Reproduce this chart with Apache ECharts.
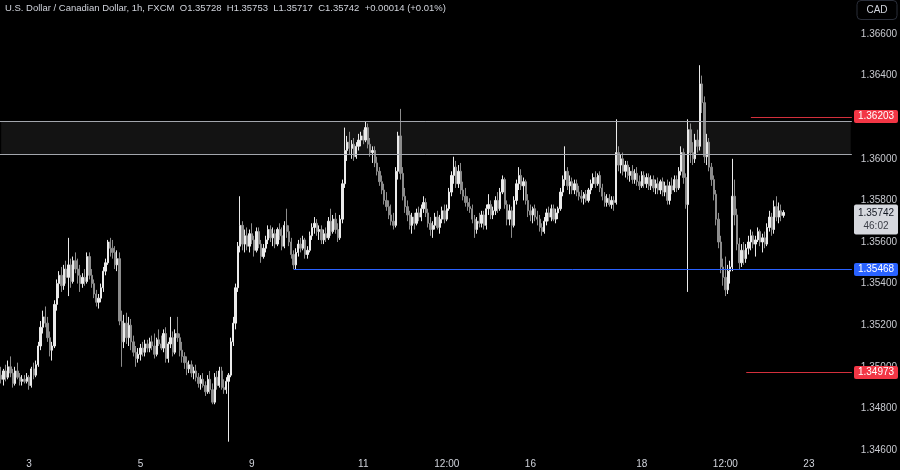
<!DOCTYPE html>
<html><head><meta charset="utf-8">
<script src="https://cdn.jsdelivr.net/npm/echarts@6/dist/echarts.min.js"></script>
<style>html,body{margin:0;padding:0;background:#000}#c{width:900px;height:470px}</style>
</head><body><div id="c"></div>
<script>
// ---------- DATA ----------
const tradingDays = ['09-02','09-03','09-04','09-05','09-06','09-09','09-10','09-11','09-12','09-13','09-16','09-17','09-18','09-19','09-20','09-23'];
const firstHour = 12;          // first candle: 09-02 12:00
const categoryCount = 367;     // hourly slots shown on the axis (incl. empty right margin)

const xTickLabels = {
  '09-03 00:00':'3','09-05 00:00':'5','09-09 00:00':'9','09-11 00:00':'11',
  '09-12 12:00':'12:00','09-16 00:00':'16','09-18 00:00':'18','09-19 12:00':'12:00','09-23 00:00':'23'
};
const yTicks = [1.346,1.348,1.350,1.352,1.354,1.356,1.358,1.360,1.362,1.364,1.366];

const opens = [
1.3496,1.3494,1.3498,1.3495,1.3500,1.3497,1.3492,1.3498,1.3495,1.3493,1.3494,1.3493,
1.3495,1.3491,1.3499,1.3496,1.3501,1.3510,1.3519,1.3524,1.3521,1.3514,1.3508,1.3510,
1.3530,1.3540,1.3544,1.3539,1.3547,1.3543,1.3549,1.3541,1.3551,1.3547,1.3544,1.3540,
1.3543,1.3541,1.3553,1.3544,1.3540,1.3535,1.3531,1.3533,1.3538,1.3546,1.3550,1.3560,
1.3557,1.3555,1.3549,1.3552,1.3522,1.3512,1.3521,1.3514,1.3520,1.3512,1.3507,1.3504,
1.3506,1.3509,1.3507,1.3511,1.3509,1.3512,1.3510,1.3506,1.3513,1.3511,1.3509,1.3516,
1.3504,1.3511,1.3514,1.3507,1.3516,1.3514,1.3508,1.3505,1.3502,1.3499,1.3501,1.3497,
1.3498,1.3495,1.3492,1.3494,1.3491,1.3488,1.3494,1.3489,1.3483,1.3495,1.3491,1.3498,
1.3490,1.3489,1.3493,1.3496,1.3512,1.3521,1.3538,1.3558,1.3568,1.3559,1.3563,1.3558,
1.3564,1.3561,1.3556,1.3565,1.3559,1.3553,1.3557,1.3561,1.3566,1.3562,1.3564,1.3559,
1.3566,1.3563,1.3558,1.3568,1.3565,1.3560,1.3554,1.3549,1.3555,1.3559,1.3557,1.3561,
1.3554,1.3556,1.3563,1.3567,1.3569,1.3565,1.3566,1.3561,1.3564,1.3562,1.3570,1.3565,
1.3571,1.3566,1.3562,1.3571,1.3588,1.3604,1.3608,1.3605,1.3607,1.3601,1.3606,1.3609,
1.3611,1.3609,1.3615,1.3607,1.3603,1.3604,1.3598,1.3594,1.3589,1.3585,1.3580,1.3577,
1.3573,1.3570,1.3568,1.3594,1.3611,1.3593,1.3582,1.3577,1.3573,1.3568,1.3572,1.3569,
1.3574,1.3572,1.3576,1.3579,1.3574,1.3569,1.3566,1.3568,1.3572,1.3567,1.3571,1.3575,
1.3571,1.3576,1.3584,1.3592,1.3596,1.3588,1.3594,1.3585,1.3582,1.3579,1.3577,1.3576,
1.3571,1.3566,1.3570,1.3569,1.3573,1.3568,1.3576,1.3578,1.3573,1.3575,1.3580,1.3576,
1.3584,1.3590,1.3578,1.3571,1.3575,1.3568,1.3580,1.3588,1.3592,1.3587,1.3589,1.3580,
1.3575,1.3573,1.3576,1.3572,1.3571,1.3567,1.3565,1.3570,1.3574,1.3572,1.3576,1.3571,
1.3574,1.3576,1.3584,1.3590,1.3594,1.3587,1.3589,1.3585,1.3588,1.3584,1.3582,1.3581,
1.3583,1.3580,1.3585,1.3588,1.3591,1.3588,1.3592,1.3586,1.3582,1.3579,1.3581,1.3578,
1.3580,1.3579,1.3603,1.3597,1.3600,1.3594,1.3597,1.3592,1.3594,1.3590,1.3593,1.3589,
1.3587,1.3592,1.3588,1.3591,1.3587,1.3590,1.3586,1.3588,1.3585,1.3589,1.3584,1.3587,
1.3580,1.3587,1.3585,1.3590,1.3586,1.3594,1.3603,1.3591,1.3578,1.3614,1.3603,1.3600,
1.3609,1.3606,1.3636,1.3627,1.3601,1.3608,1.3596,1.3590,1.3583,1.3571,1.3560,1.3548,
1.3543,1.3537,1.3546,1.3548,1.3582,1.3573,1.3559,1.3550,1.3556,1.3552,1.3557,1.3560,
1.3563,1.3559,1.3561,1.3565,1.3560,1.3562,1.3559,1.3567,1.3572,1.3566,1.3577,1.3572,
1.3575,1.35728];

const highs = [
1.3500,1.3499,1.3501,1.3503,1.3505,1.3499,1.3500,1.3502,1.3497,1.3496,1.3496,1.3497,
1.3496,1.3500,1.3502,1.3503,1.3512,1.3522,1.3527,1.3529,1.3524,1.3517,1.3512,1.3532,
1.3542,1.3546,1.3548,1.3549,1.3551,1.3562,1.3552,1.3553,1.3555,1.3552,1.3549,1.3545,
1.3547,1.3555,1.3555,1.3547,1.3542,1.3537,1.3535,1.3540,1.3548,1.3552,1.3561,1.3562,
1.3561,1.3558,1.3556,1.3555,1.3527,1.3525,1.3526,1.3524,1.3523,1.3515,1.3510,1.3509,
1.3511,1.3512,1.3513,1.3513,1.3514,1.3515,1.3516,1.3514,1.3518,1.3515,1.3518,1.3519,
1.3512,1.3524,1.3517,1.3518,1.3524,1.3516,1.3512,1.3507,1.3505,1.3503,1.3503,1.3500,
1.3501,1.3497,1.3496,1.3497,1.3493,1.3496,1.3498,1.3492,1.3497,1.3498,1.3500,1.3500,
1.3494,1.3495,1.3497,1.3514,1.3524,1.3540,1.3560,1.3582,1.3570,1.3566,1.3567,1.3566,
1.3569,1.3563,1.3567,1.3567,1.3561,1.3559,1.3563,1.3568,1.3568,1.3567,1.3566,1.3567,
1.3569,1.3567,1.3570,1.3576,1.3568,1.3562,1.3556,1.3557,1.3561,1.3562,1.3563,1.3562,
1.3558,1.3565,1.3569,1.3572,1.3571,1.3568,1.3568,1.3566,1.3567,1.3572,1.3576,1.3573,
1.3574,1.3569,1.3573,1.3590,1.3615,1.3611,1.3613,1.3609,1.3610,1.3608,1.3612,1.3613,
1.3614,1.3618,1.3617,1.3610,1.3606,1.3606,1.3601,1.3596,1.3592,1.3588,1.3584,1.3580,
1.3578,1.3574,1.3596,1.3613,1.3624,1.3596,1.3586,1.3580,1.3575,1.3574,1.3574,1.3576,
1.3577,1.3578,1.3582,1.3581,1.3576,1.3572,1.3570,1.3574,1.3575,1.3573,1.3577,1.3578,
1.3578,1.3586,1.3594,1.3601,1.3599,1.3597,1.3598,1.3589,1.3586,1.3582,1.3581,1.3578,
1.3573,1.3572,1.3574,1.3575,1.3575,1.3578,1.3583,1.3580,1.3577,1.3582,1.3584,1.3586,
1.3592,1.3591,1.3580,1.3578,1.3577,1.3582,1.3590,1.3596,1.3595,1.3591,1.3590,1.3583,
1.3578,1.3577,1.3578,1.3575,1.3573,1.3569,1.3572,1.3576,1.3577,1.3578,1.3578,1.3576,
1.3577,1.3586,1.3592,1.3606,1.3596,1.3592,1.3591,1.3590,1.3590,1.3587,1.3585,1.3584,
1.3585,1.3586,1.3590,1.3593,1.3594,1.3593,1.3594,1.3588,1.3584,1.3583,1.3583,1.3582,
1.3582,1.3619,1.3606,1.3602,1.3603,1.3599,1.3599,1.3596,1.3597,1.3595,1.3596,1.3592,
1.3594,1.3594,1.3593,1.3593,1.3592,1.3592,1.3590,1.3591,1.3590,1.3591,1.3589,1.3590,
1.3589,1.3591,1.3592,1.3592,1.3596,1.3606,1.3605,1.3593,1.3619,1.3617,1.3608,1.3612,
1.3614,1.3645,1.3640,1.3630,1.3612,1.3610,1.3598,1.3592,1.3585,1.3574,1.3563,1.3552,
1.3553,1.3549,1.3551,1.3600,1.3590,1.3576,1.3562,1.3559,1.3560,1.3559,1.3563,1.3566,
1.3565,1.3563,1.3567,1.3566,1.3564,1.3565,1.3569,1.3575,1.3574,1.3580,1.3582,1.3579,
1.3578,1.35753];

const lows = [
1.3492,1.3491,1.3493,1.3494,1.3495,1.3490,1.3491,1.3494,1.3491,1.3491,1.3492,1.3492,
1.3489,1.3490,1.3494,1.3495,1.3500,1.3508,1.3516,1.3519,1.3512,1.3505,1.3503,1.3509,
1.3527,1.3533,1.3536,1.3537,1.3540,1.3534,1.3538,1.3540,1.3545,1.3540,1.3536,1.3538,
1.3539,1.3540,1.3542,1.3538,1.3533,1.3529,1.3528,1.3531,1.3536,1.3544,1.3549,1.3553,
1.3552,1.3547,1.3546,1.3520,1.3500,1.3509,1.3511,1.3510,1.3508,1.3505,1.3500,1.3502,
1.3503,1.3505,1.3505,1.3507,1.3507,1.3508,1.3504,1.3505,1.3510,1.3508,1.3507,1.3502,
1.3502,1.3509,1.3505,1.3506,1.3512,1.3505,1.3502,1.3499,1.3496,1.3497,1.3495,1.3494,
1.3493,1.3490,1.3489,1.3490,1.3486,1.3487,1.3487,1.3482,1.3482,1.3489,1.3490,1.3489,
1.3487,1.3487,1.3464,1.3495,1.3510,1.3518,1.3536,1.3555,1.3556,1.3555,1.3556,1.3555,
1.3559,1.3553,1.3555,1.3557,1.3550,1.3552,1.3555,1.3559,1.3560,1.3558,1.3557,1.3558,
1.3561,1.3556,1.3557,1.3562,1.3558,1.3552,1.3547,1.3547,1.3553,1.3555,1.3556,1.3552,
1.3552,1.3555,1.3561,1.3564,1.3563,1.3561,1.3559,1.3559,1.3560,1.3561,1.3563,1.3564,
1.3564,1.3560,1.3561,1.3569,1.3586,1.3599,1.3602,1.3600,1.3599,1.3600,1.3604,1.3606,
1.3607,1.3608,1.3605,1.3601,1.3598,1.3596,1.3592,1.3587,1.3583,1.3578,1.3575,1.3571,
1.3568,1.3566,1.3567,1.3590,1.3590,1.3580,1.3574,1.3570,1.3566,1.3564,1.3566,1.3568,
1.3570,1.3570,1.3574,1.3572,1.3567,1.3563,1.3562,1.3566,1.3566,1.3564,1.3569,1.3569,
1.3570,1.3575,1.3582,1.3588,1.3586,1.3586,1.3583,1.3580,1.3577,1.3575,1.3574,1.3569,
1.3562,1.3564,1.3567,1.3567,1.3566,1.3566,1.3573,1.3571,1.3571,1.3573,1.3574,1.3575,
1.3583,1.3576,1.3568,1.3568,1.3562,1.3567,1.3578,1.3585,1.3585,1.3580,1.3578,1.3572,
1.3570,1.3569,1.3570,1.3568,1.3565,1.3563,1.3564,1.3568,1.3570,1.3570,1.3570,1.3569,
1.3571,1.3575,1.3582,1.3587,1.3585,1.3583,1.3583,1.3583,1.3582,1.3580,1.3579,1.3578,
1.3579,1.3579,1.3583,1.3586,1.3586,1.3587,1.3584,1.3580,1.3577,1.3577,1.3577,1.3576,
1.3575,1.3578,1.3594,1.3593,1.3592,1.3591,1.3590,1.3589,1.3588,1.3588,1.3587,1.3585,
1.3586,1.3586,1.3586,1.3585,1.3585,1.3584,1.3583,1.3583,1.3583,1.3582,1.3582,1.3578,
1.3578,1.3583,1.3584,1.3584,1.3585,1.3592,1.3588,1.3576,1.3536,1.3598,1.3597,1.3598,
1.3603,1.3604,1.3622,1.3598,1.3597,1.3594,1.3587,1.3580,1.3568,1.3557,1.3545,1.3539,
1.3534,1.3535,1.3540,1.3546,1.3568,1.3556,1.3547,1.3548,1.3549,1.3550,1.3554,1.3556,
1.3557,1.3553,1.3560,1.3558,1.3555,1.3557,1.3558,1.3565,1.3563,1.3564,1.3570,1.3569,
1.3570,1.35717];

const closes = [
1.3494,1.3498,1.3495,1.3500,1.3497,1.3492,1.3498,1.3495,1.3493,1.3494,1.3493,1.3495,
1.3491,1.3499,1.3496,1.3501,1.3510,1.3519,1.3524,1.3521,1.3514,1.3508,1.3510,1.3530,
1.3540,1.3544,1.3539,1.3547,1.3543,1.3549,1.3541,1.3551,1.3547,1.3544,1.3540,1.3543,
1.3541,1.3553,1.3544,1.3540,1.3535,1.3531,1.3533,1.3538,1.3546,1.3550,1.3560,1.3557,
1.3555,1.3549,1.3552,1.3522,1.3512,1.3521,1.3514,1.3520,1.3512,1.3507,1.3504,1.3506,
1.3509,1.3507,1.3511,1.3509,1.3512,1.3510,1.3506,1.3513,1.3511,1.3509,1.3516,1.3504,
1.3511,1.3514,1.3507,1.3516,1.3514,1.3508,1.3505,1.3502,1.3499,1.3501,1.3497,1.3498,
1.3495,1.3492,1.3494,1.3491,1.3488,1.3494,1.3489,1.3483,1.3495,1.3491,1.3498,1.3490,
1.3489,1.3493,1.3496,1.3512,1.3521,1.3538,1.3558,1.3568,1.3559,1.3563,1.3558,1.3564,
1.3561,1.3556,1.3565,1.3559,1.3553,1.3557,1.3561,1.3566,1.3562,1.3564,1.3559,1.3566,
1.3563,1.3558,1.3568,1.3565,1.3560,1.3554,1.3549,1.3555,1.3559,1.3557,1.3561,1.3554,
1.3556,1.3563,1.3567,1.3569,1.3565,1.3566,1.3561,1.3564,1.3562,1.3570,1.3565,1.3571,
1.3566,1.3562,1.3571,1.3588,1.3604,1.3608,1.3605,1.3607,1.3601,1.3606,1.3609,1.3611,
1.3609,1.3615,1.3607,1.3603,1.3604,1.3598,1.3594,1.3589,1.3585,1.3580,1.3577,1.3573,
1.3570,1.3568,1.3594,1.3611,1.3593,1.3582,1.3577,1.3573,1.3568,1.3572,1.3569,1.3574,
1.3572,1.3576,1.3579,1.3574,1.3569,1.3566,1.3568,1.3572,1.3567,1.3571,1.3575,1.3571,
1.3576,1.3584,1.3592,1.3596,1.3588,1.3594,1.3585,1.3582,1.3579,1.3577,1.3576,1.3571,
1.3566,1.3570,1.3569,1.3573,1.3568,1.3576,1.3578,1.3573,1.3575,1.3580,1.3576,1.3584,
1.3590,1.3578,1.3571,1.3575,1.3568,1.3580,1.3588,1.3592,1.3587,1.3589,1.3580,1.3575,
1.3573,1.3576,1.3572,1.3571,1.3567,1.3565,1.3570,1.3574,1.3572,1.3576,1.3571,1.3574,
1.3576,1.3584,1.3590,1.3594,1.3587,1.3589,1.3585,1.3588,1.3584,1.3582,1.3581,1.3583,
1.3580,1.3585,1.3588,1.3591,1.3588,1.3592,1.3586,1.3582,1.3579,1.3581,1.3578,1.3580,
1.3579,1.3603,1.3597,1.3600,1.3594,1.3597,1.3592,1.3594,1.3590,1.3593,1.3589,1.3587,
1.3592,1.3588,1.3591,1.3587,1.3590,1.3586,1.3588,1.3585,1.3589,1.3584,1.3587,1.3580,
1.3587,1.3585,1.3590,1.3586,1.3594,1.3603,1.3591,1.3578,1.3614,1.3603,1.3600,1.3609,
1.3606,1.3636,1.3627,1.3601,1.3608,1.3596,1.3590,1.3583,1.3571,1.3560,1.3548,1.3543,
1.3537,1.3546,1.3548,1.3582,1.3573,1.3559,1.3550,1.3556,1.3552,1.3557,1.3560,1.3563,
1.3559,1.3561,1.3565,1.3560,1.3562,1.3559,1.3567,1.3572,1.3566,1.3577,1.3572,1.3575,
1.35728,1.35742];

// drawn levels
const zoneTop = 1.36182, zoneBottom = 1.36023;
const supportLevel = 1.35468, supportStart = 126;
const redLevelHigh = 1.36203, redHighStart = 323;
const redLevelLow = 1.34973, redLowStart = 321;
const lastPrice = 1.35742, countdown = '46:02';
const titleText = 'U.S. Dollar / Canadian Dollar, 1h, FXCM  O1.35728  H1.35753  L1.35717  C1.35742  +0.00014 (+0.01%)';

// ---------- BUILD ----------
const categories = [];
(function(){
  for (let d = 0; d < tradingDays.length && categories.length < categoryCount; d++) {
    for (let h = (d === 0 ? firstHour : 0); h < 24 && categories.length < categoryCount; h++) {
      categories.push(tradingDays[d] + ' ' + String(h).padStart(2,'0') + ':00');
    }
  }
})();
const candles = opens.map((o, i) => [o, closes[i], lows[i], highs[i]]);
const lastIdx = categoryCount - 1;

const UP = '#ebebeb', DOWN = '#8c8c8c';
const FONT = 'Liberation Sans, Arial, sans-serif';

const chart = echarts.init(document.getElementById('c'), null, {renderer: 'canvas'});
chart.setOption({
  backgroundColor: '#000000',
  animation: false,
  grid: {left: 0, right: 48, top: 0, bottom: 15, containLabel: false},
  xAxis: {
    type: 'category', data: categories, boundaryGap: true,
    axisLine: {show: false}, axisTick: {show: false}, splitLine: {show: false},
    axisLabel: {
      interval: (idx, val) => Object.prototype.hasOwnProperty.call(xTickLabels, val),
      formatter: (val) => xTickLabels[val] || '',
      color: '#d1d4dc', fontSize: 10, margin: 4, fontFamily: FONT,
      hideOverlap: false
    }
  },
  yAxis: {
    type: 'value', position: 'right', min: 1.34576, max: 1.367635,
    axisLine: {show: false}, axisTick: {show: false}, splitLine: {show: false},
    axisLabel: {
      customValues: yTicks, formatter: (v) => v.toFixed(5),
      color: '#c8cad0', fontSize: 10, margin: 9, fontFamily: FONT
    }
  },
  series: [
    {
      type: 'candlestick', data: candles, barWidth: 1.8, z: 4,
      itemStyle: {color: UP, color0: DOWN, borderColor: UP, borderColor0: DOWN, borderWidth: 1},
      markArea: {
        silent: true,
        itemStyle: {color: 'rgba(255,255,255,0.075)'},
        data: [[{coord: [0, zoneTop]}, {coord: [lastIdx, zoneBottom]}]]
      }
    }
  ]
});

// level lines and price-scale labels placed through the library scales
function yPix(v){ return chart.convertToPixel({yAxisIndex: 0}, v); }
function xPix(i){ return chart.convertToPixel({xAxisIndex: 0}, i); }
const band = xPix(1) - xPix(0);
const plotLeft = xPix(0) - band / 2, plotRight = xPix(lastIdx) + band / 2;
function levelLine(startIdx, v, color){
  const y = Math.round(yPix(v)) + 0.5;
  const x0 = startIdx === 0 ? plotLeft : xPix(startIdx);
  return {type:'line', z: 50, silent: true, shape:{x1: x0, y1: y, x2: plotRight, y2: y}, style:{stroke: color, lineWidth: 1}};
}
function priceTag(v, bg, fg){
  const y = yPix(v);
  return [
    {type:'rect', z: 100, shape:{x: 854, y: y - 6.5, width: 44, height: 13, r: 2}, style:{fill: bg}},
    {type:'text', z: 101, style:{x: 876, y: y, text: v.toFixed(5), fill: fg, font: '10px ' + FONT, align:'center', verticalAlign:'middle'}}
  ];
}
const yl = yPix(lastPrice);
chart.setOption({
  graphic: [].concat(
    [
      levelLine(0, zoneTop, '#a3a6ad'),
      levelLine(0, zoneBottom, '#a3a6ad'),
      levelLine(supportStart, supportLevel, '#2962ff'),
      levelLine(redHighStart, redLevelHigh, '#d3303c'),
      levelLine(redLowStart, redLevelLow, '#d3303c')
    ],
    priceTag(redLevelHigh, '#f23645', '#ffffff'),
    priceTag(supportLevel, '#2962ff', '#ffffff'),
    priceTag(redLevelLow, '#f23645', '#ffffff'),
    [
      {type:'rect', z: 100, shape:{x: 854, y: yl - 8, width: 44, height: 30, r: 2}, style:{fill: '#d6d8de'}},
      {type:'text', z: 101, style:{x: 876, y: yl + 1, text: lastPrice.toFixed(5), fill: '#131722', font: '10px ' + FONT, align:'center', verticalAlign:'middle'}},
      {type:'text', z: 101, style:{x: 876, y: yl + 14, text: countdown, fill: '#3a3d46', font: '10px ' + FONT, align:'center', verticalAlign:'middle'}},
      {type:'rect', z: 100, shape:{x: 857, y: 0.5, width: 40, height: 19, r: 4}, style:{fill: '#000', stroke: '#2a2e39', lineWidth: 1}},
      {type:'text', z: 101, style:{x: 877, y: 10, text: 'CAD', fill: '#d1d4dc', font: '10px ' + FONT, align:'center', verticalAlign:'middle'}},
      {type:'text', z: 101, style:{x: 5, y: 8, text: titleText, fill: '#d1d4dc', font: '9.5px ' + FONT, align:'left', verticalAlign:'middle'}}
    ]
  )
});
</script>
</body></html>
